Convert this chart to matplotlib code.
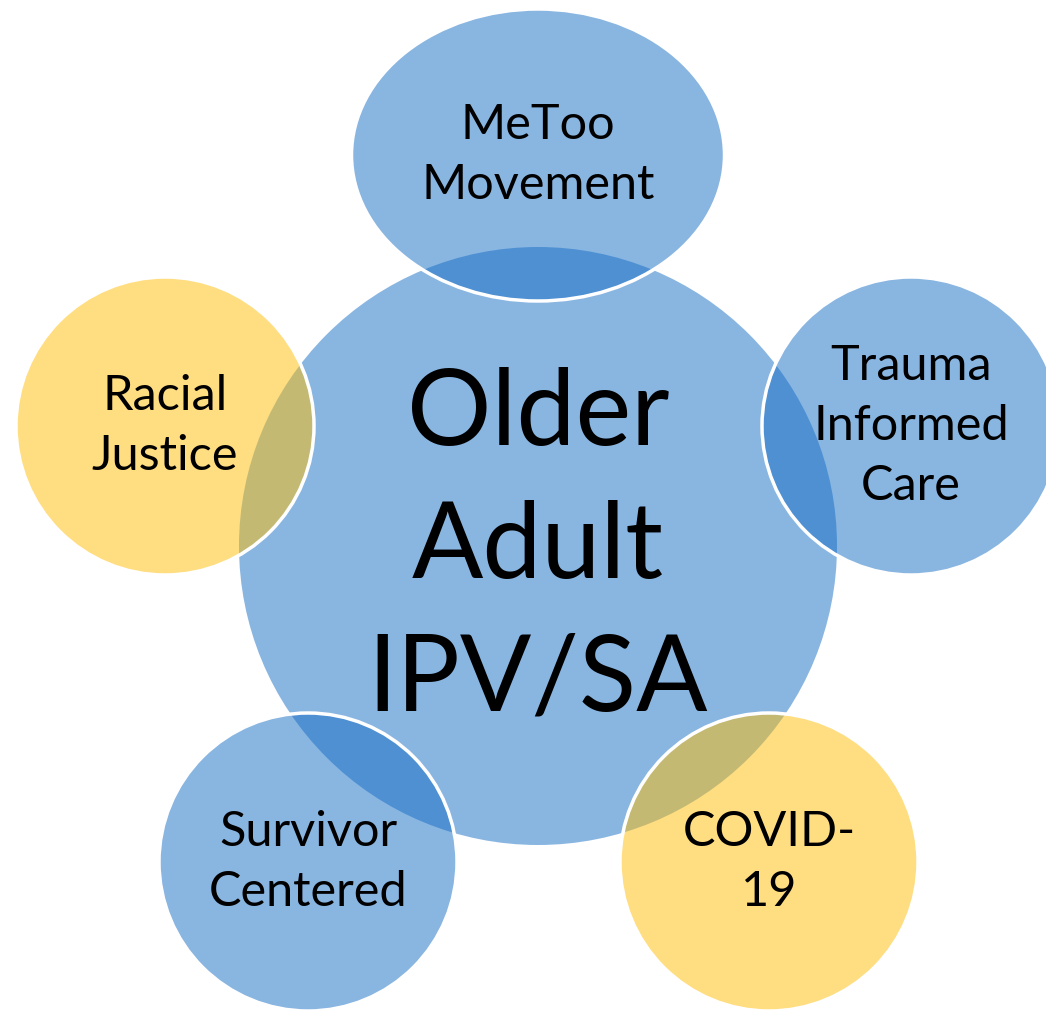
import matplotlib.pyplot as plt
from matplotlib.patches import Ellipse

plt.rcParams['font.family'] = ['Lato', 'DejaVu Sans']

# centre bubble
centre_label = 'Older\nAdult\nIPV/SA'
centre_xy = (538, 546)
centre_r = 299

# outer bubbles
labels = ['MeToo\nMovement', 'Trauma\nInformed\nCare', 'COVID-\n19', 'Survivor\nCentered', 'Racial\nJustice']
centres = [(538, 155), (911, 426), (769, 862), (308, 862), (165, 426)]
widths = [373, 298, 298, 298, 298]
heights = [292, 298, 298, 298, 298]
kinds = ['blue', 'blue', 'yellow', 'blue', 'yellow']

blue = (21/255, 109/255, 197/255)
yellow = (255/255, 189/255, 5/255)
cols = {'blue': blue, 'yellow': yellow}

fig = plt.figure(figsize=(10.46, 10.11), dpi=100)
ax = fig.add_axes([0, 0, 1, 1])
ax.set_xlim(0, 1046)
ax.set_ylim(1011, 0)
ax.set_aspect('equal')
ax.axis('off')

ax.add_patch(Ellipse(centre_xy, 2*centre_r, 2*centre_r, facecolor=blue + (0.5,), edgecolor='none'))
ax.text(centre_xy[0], centre_xy[1] + 2, centre_label, ha='center', va='center',
        fontsize=76, linespacing=1.47, color='black')

for lab, c, w, h, k in zip(labels, centres, widths, heights, kinds):
    ax.add_patch(Ellipse(c, w, h, facecolor=cols[k] + (0.5,), edgecolor='white', lw=2.5))
    ax.text(c[0], c[1], lab, ha='center', va='center', fontsize=35,
            linespacing=1.45, color='black')

fig.savefig('out.png', dpi=100)
